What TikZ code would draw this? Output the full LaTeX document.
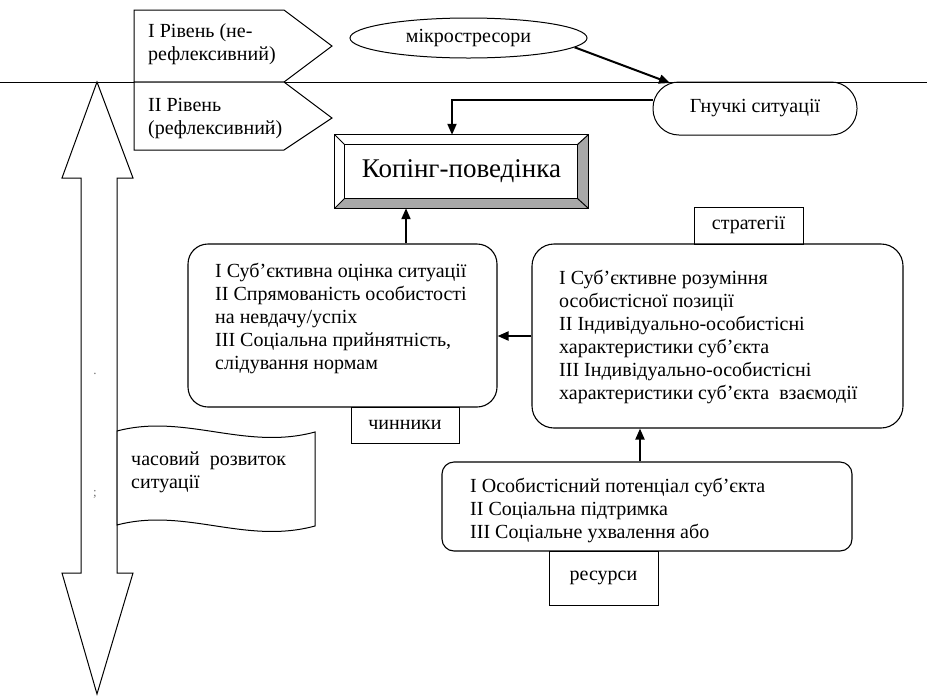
\documentclass[tikz,border=0pt]{standalone}
\usepackage{fontspec}
\setmainfont{Liberation Serif}
\usetikzlibrary{shapes.geometric,arrows.meta,calc}
\begin{document}
\begin{tikzpicture}[x=1pt,y=-1pt,
  every node/.style={font=\fontsize{20}{23}\selectfont},
  ln/.style={line width=1pt},
  arr/.style={line width=2pt,-{Triangle[length=11pt,width=9pt]}},
  rbox/.style={draw,line width=1.1pt,rounded corners=20pt,inner sep=0pt},
  tag/.style={draw,line width=1pt,fill=white,inner sep=0pt},
  txt/.style={align=left,inner sep=0pt,anchor=north west},
  bev/.style={fill=black!34},
  tinymark/.style={font=\fontsize{13}{13}\selectfont,text=black!55,inner sep=0pt}
]
\useasboundingbox (0,0) rectangle (927,697);
% level line
\coordinate (hl0) at (0,82);
\coordinate (hl1) at (927,82);
\draw[ln] (hl0) -- (hl1);
% level pentagons
\draw[ln,fill=white] (134,10) -- (284,10) -- (332,46) -- (284,82) -- (134,82) -- cycle;
\draw[ln,fill=white] (134,82) -- (284,82) -- (332,118) -- (284,150) -- (134,150) -- cycle;
\node[txt] (p1t) at (148,21) {\strut I Рівень (не-\\рефлексивний)};
\node[txt] (p2t) at (148,95) {\strut II Рівень\\(рефлексивний)};
% double arrow
\draw[ln,fill=white] (97,82) -- (133,178) -- (117,178) -- (117,573) -- (133,573) -- (97,694)
  -- (62,573) -- (81,573) -- (81,178) -- (62,178) -- cycle;
\node[tinymark] (d1) at (95,374) {.};
\node[tinymark] (d2) at (95,494) {;};
% flag
\draw[ln,fill=white] (117,431) .. controls (185,413) and (245,451) .. (315,432) -- (315,526)
  .. controls (245,545) and (185,507) .. (117,525) -- cycle;
\node[txt] (ft) at (131,449) {\strut часовий\ \ розвиток\\ситуації};
% ellipse and flexible situations
\node[draw,ln,ellipse,minimum width=237pt,minimum height=40pt,inner sep=0pt] (el) at (468.5,38) {мікростресори};
\node[draw,ln,rounded corners=26pt,minimum width=204pt,minimum height=53pt,inner sep=0pt] (g) at (755,108.5) {Гнучкі ситуації};
\coordinate (gt) at (670,83);
% coping box (bevel)
\node[minimum width=253pt,minimum height=73pt,inner sep=0pt,font=\fontsize{27}{30}\selectfont] (kop) at (461.5,171.5) {Копінг-поведінка};
\coordinate (ka) at ([shift={(10pt,-10pt)}]kop.north west);
\coordinate (kb) at ([shift={(-11pt,-10pt)}]kop.north east);
\coordinate (kc) at ([shift={(-11pt,10pt)}]kop.south east);
\coordinate (kd) at ([shift={(10pt,10pt)}]kop.south west);
\fill[bev] (kop.north east) -- (kop.south east) -- (kc) -- (kb) -- cycle;
\fill[bev] (kop.south east) -- (kop.south west) -- (kd) -- (kc) -- cycle;
\draw[ln] (kop.north west) rectangle (kop.south east);
\draw[ln] (ka) rectangle (kc);
\draw[ln] (kop.north west) -- (ka) (kop.north east) -- (kb) (kop.south east) -- (kc) (kop.south west) -- (kd);
% boxes
\node[rbox,minimum width=309pt,minimum height=163pt] (lb) at (342.5,325.5) {};
\node[txt] (lbt) at (215,261) {\strut I Суб’єктивна оцінка ситуації\\II Спрямованість особистості\\на невдачу/успіх\\III Соціальна прийнятність,\\слідування нормам};
\node[tag,minimum width=108pt,minimum height=36pt] (ch) at (405,425) {чинники};
\node[tag,minimum width=109pt,minimum height=37pt] (st) at (748.5,225.5) {стратегії};
\node[rbox,rounded corners=22pt,minimum width=371pt,minimum height=184pt] (rb) at (717.5,336) {};
\node[txt] (rbt) at (559,268) {\strut I Суб’єктивне розуміння\\особистісної позиції\\II Індивідуально-особистісні\\характеристики суб’єкта\\III Індивідуально-особистісні\\характеристики суб’єкта\ \ взаємодії};
\node[rbox,rounded corners=12pt,minimum width=410pt,minimum height=89pt] (bb) at (647,506.5) {};
\node[txt] (bbt) at (470,476) {\strut I Особистісний потенціал суб’єкта\\II Соціальна підтримка\\III Соціальне ухвалення або};
\node[tag,minimum width=109pt,minimum height=54pt] (rs) at (603.5,578) {\raisebox{3pt}{ресурси}};
% connectors
\draw[arr] (el.-5) -- (gt);
\draw[arr] ([yshift=8.5pt]g.west) -| ([xshift=-9.5pt]kop.north);
\draw[arr] ([xshift=63.5pt]lb.north) -- ([xshift=63.5pt]lb.north |- kop.south);
\draw[arr] (rb.west) -- (rb.west -| lb.east);
\draw[arr] ([xshift=-7pt]bb.north) -- ([xshift=-7pt]bb.north |- rb.south);
\end{tikzpicture}
\end{document}
